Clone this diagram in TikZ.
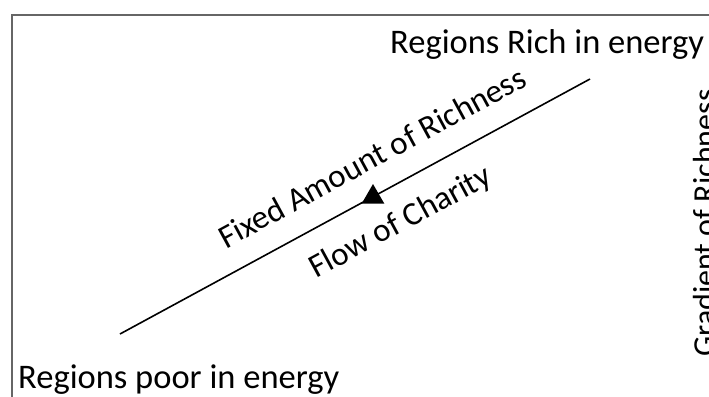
\documentclass[tikz,border=0pt]{standalone}
\usepackage{fontspec}
\setmainfont{Carlito}
\usetikzlibrary{shapes.geometric}

\begin{document}
\begin{tikzpicture}[
  x=1pt, y=-1pt,
  txt/.style={inner sep=0pt, font=\fontsize{34.5}{40}\selectfont},
  slanted/.style={inner sep=0pt, rotate=28.5, font=\fontsize{33}{38}\selectfont},
  marker/.style={regular polygon, regular polygon sides=3, fill, inner sep=0pt, minimum size=26pt}
]
\useasboundingbox (0,0) rectangle (709,396);
\clip (0,0) rectangle (709,396);
\draw[black!60, line width=2pt] (12,15) rectangle (740,430);

\coordinate (poor) at (120,334);
\coordinate (rich) at (590,79);
\node[txt, anchor=base west] (richlbl) at (390,53) {Regions Rich in energy};
\node[txt, anchor=base west] (poorlbl) at (18,388) {Regions poor in energy};

\draw[line width=1.6pt] (poor) -- (rich);
\node[marker] (flow) at (373,197) {};

\node[slanted] (fixed) at (372,157) {Fixed Amount of Richness};
\node[slanted] (charity) at (401,223) {Flow of Charity};
\node[txt, rotate=90, font=\fontsize{32}{37}\selectfont] (gradient) at (704,223) {Gradient of Richness};

\end{tikzpicture}
\end{document}
